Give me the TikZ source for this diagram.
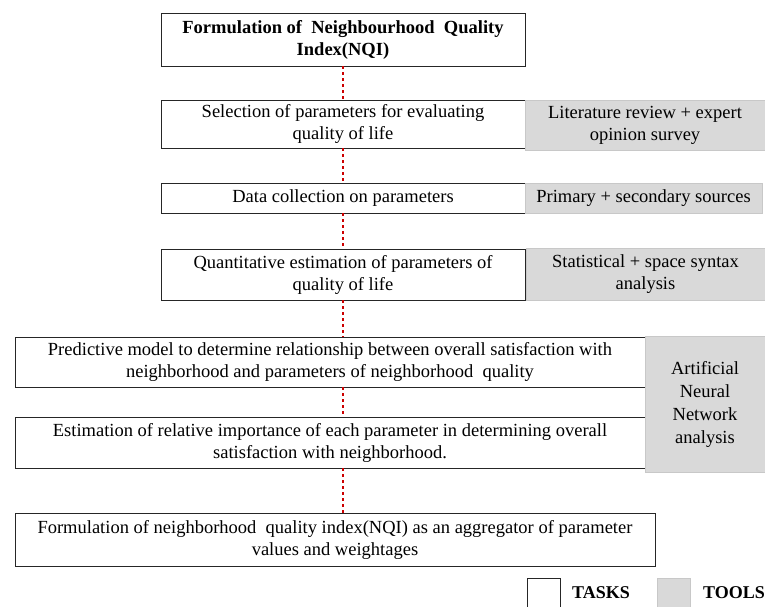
\documentclass[tikz,border=0pt]{standalone}
\usepackage{fontspec}
\setmainfont{Liberation Serif}
\definecolor{ToolGray}{RGB}{217,217,217}
\definecolor{ToolEdge}{RGB}{200,200,200}
\definecolor{LinkRed}{RGB}{204,0,0}

\begin{document}
\begin{tikzpicture}[x=1pt, y=-1pt]
	\tikzstyle{every node}=[font=\fontsize{18.5}{22}\selectfont, align=center, inner sep=0pt]
	\tikzstyle{task}=[draw=black!85, fill=white, line width=0.8pt, shape=rectangle]
	\tikzstyle{tool}=[draw=ToolEdge, fill=ToolGray, line width=0.6pt, shape=rectangle]
	\tikzstyle{link}=[draw=LinkRed, line width=2.6pt, dash pattern=on 3pt off 3pt]
	\useasboundingbox (0,0) rectangle (765,607);
	% tasks
	\node [task, minimum width=364pt, minimum height=53pt, font=\fontsize{18.5}{22}\selectfont\bfseries] (nqi) at (343, 39.5) {Formulation of\ \ Neighbourhood\ \ Quality\\Index(NQI)};
	\node [task, minimum width=364pt, minimum height=48pt] (select) at (343, 124) {Selection of parameters for evaluating\\quality of life};
	\node [task, minimum width=364pt, minimum height=30pt] (data) at (343, 198) {Data collection on parameters};
	\node [task, minimum width=364pt, minimum height=51pt] (quant) at (343, 274.5) {Quantitative estimation of parameters of\\quality of life};
	\node [task, minimum width=630pt, minimum height=50pt] (pred) at (330, 362) {Predictive model to determine relationship between overall satisfaction with\\neighborhood and parameters of neighborhood\ \ quality};
	\node [task, minimum width=630pt, minimum height=51pt] (est) at (330, 442.5) {Estimation of relative importance of each parameter in determining overall\\satisfaction with neighborhood.};
	\node [task, minimum width=640pt, minimum height=53pt] (final) at (335, 540) {Formulation of neighborhood\ \ quality index(NQI) as an aggregator of parameter\\values and weightages};
	% tools
	\node [tool, minimum width=240pt, minimum height=50pt] (litrev) at (645, 125) {Literature review + expert\\opinion survey};
	\node [tool, minimum width=237pt, minimum height=30pt] (sources) at (643.5, 198) {Primary + secondary sources};
	\node [tool, minimum width=239pt, minimum height=52pt] (stats) at (645.5, 274) {Statistical + space syntax\\analysis};
	\node [tool, minimum width=120pt, minimum height=136pt, font=\fontsize{18.5}{23}\selectfont] (ann) at (705, 404) {Artificial\\Neural\\Network\\analysis};
	% links
	\draw [link] (nqi.south) -- (select.north);
	\draw [link] (select.south) -- (data.north);
	\draw [link] (data.south) -- (quant.north);
	\draw [link] (quant.south) -- (quant.south |- pred.north);
	\draw [link] (quant.south |- pred.south) -- (quant.south |- est.north);
	\draw [link] (quant.south |- est.south) -- (quant.south |- final.north);
	% legend
	\node [task, minimum width=33pt, minimum height=30pt] (taskkey) at (543.5, 593) {};
	\node [font=\fontsize{18}{22}\selectfont\bfseries, anchor=west] (tasklabel) at (572, 593) {TASKS};
	\node [tool, minimum width=33pt, minimum height=30pt] (toolkey) at (673.5, 593) {};
	\node [font=\fontsize{18}{22}\selectfont\bfseries, anchor=west] (toollabel) at (703, 593) {TOOLS};
\end{tikzpicture}
\end{document}
